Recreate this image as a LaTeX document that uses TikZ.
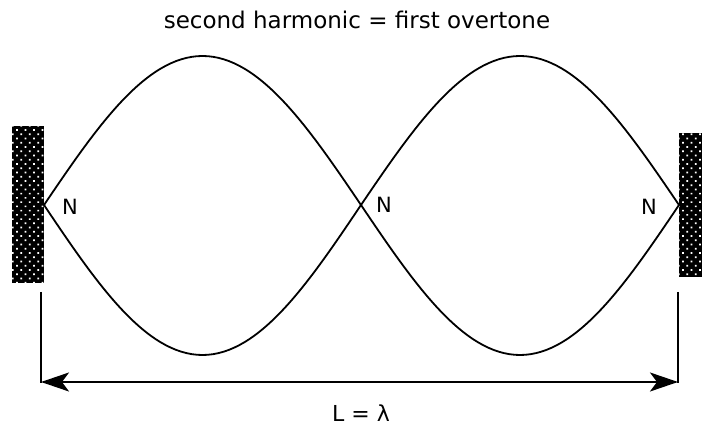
\documentclass[tikz,border=0pt]{standalone}
\usepackage{fontspec}
\setmainfont{DejaVu Sans}
\usetikzlibrary{patterns.meta,arrows.meta}
\begin{document}
\begin{tikzpicture}[x=1pt,y=-1pt,
  wave/.style={line width=1.8pt},
  wall/.style={draw=none, inner sep=0pt, preaction={fill=black},
    pattern={Dots[distance=6pt,radius=1.2pt,angle=45]}, pattern color=white},
  lbl/.style={inner sep=0pt, font=\fontsize{21}{25}\selectfont},
  dim/.style={line width=1.8pt}]
\useasboundingbox (0,0) rectangle (702,427);
\node[inner sep=0pt, font=\fontsize{23}{27}\selectfont] (title) at (357,20) {second harmonic = first overtone};
\node[wall, minimum width=32pt, minimum height=157pt] (lw) at (28,204.5) {};
\node[wall, minimum width=26pt, minimum height=144pt] (rw) at (692,205) {};
\coordinate (n1) at (44,205);
\coordinate (a1) at (202.5,56);
\coordinate (n2) at (361,205);
\coordinate (a2) at (520,355);
\coordinate (n3) at (679,205);
\coordinate (b1) at (202.5,355);
\coordinate (b2) at (520,56);
\draw[wave] (n1) sin (a1) cos (n2) sin (a2) cos (n3);
\draw[wave] (n1) sin (b1) cos (n2) sin (b2) cos (n3);
\node[lbl] (N1) at (70,207) {N};
\node[lbl] (N2) at (384,205) {N};
\node[lbl] (N3) at (649,207) {N};
\coordinate (l1) at (41,292);
\coordinate (l2) at (41,383);
\coordinate (r1) at (678,292);
\coordinate (r2) at (678,383);
\coordinate (al) at (41,382);
\coordinate (ar) at (678,382);
\draw[dim] (l1) -- (l2);
\draw[dim] (r1) -- (r2);
\draw[dim, {Stealth[length=28pt,width=19pt,inset=7pt]}-{Stealth[length=28pt,width=19pt,inset=7pt]}] (al) -- (ar);
\node[inner sep=0pt, font=\fontsize{22}{26}\selectfont] (L) at (361,413) {L = λ};
\end{tikzpicture}
\end{document}
